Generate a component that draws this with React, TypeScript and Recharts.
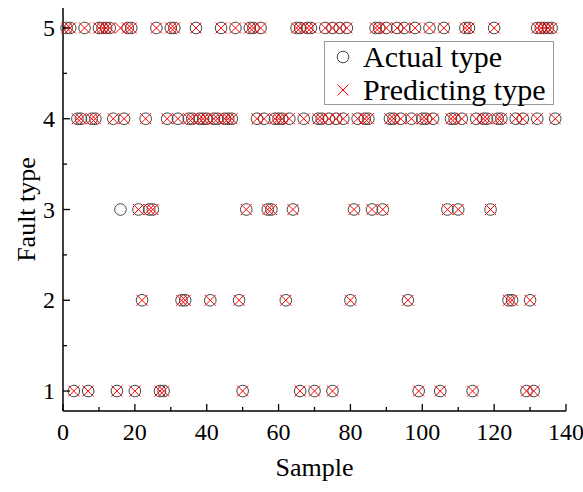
import { Legend, Scatter, ScatterChart, XAxis, YAxis } from 'recharts'

const FONT = '"Liberation Serif", "Times New Roman", serif'

// sample numbers for each fault type (actual == predicted)
const type5 = [1, 2, 6, 10, 11, 12, 13, 18, 19, 26, 30, 31, 37, 44, 48, 52, 53, 55, 65, 66, 68, 69, 73, 75, 77, 79, 87, 88, 90, 93, 95, 98, 102, 106, 112, 113, 120, 132, 133, 134, 135, 136]
const type4 = [4, 5, 8, 9, 14, 17, 23, 29, 32, 35, 36, 38, 39, 40, 42, 43, 45, 46, 47, 54, 56, 59, 60, 61, 63, 67, 71, 72, 74, 76, 78, 82, 84, 85, 91, 92, 94, 97, 100, 101, 103, 108, 109, 111, 115, 117, 118, 121, 122, 126, 128, 132, 137]
const type3 = [21, 24, 25, 51, 57, 58, 64, 81, 86, 89, 107, 110, 119]
const type2 = [22, 33, 34, 41, 49, 62, 80, 96, 124, 125, 130]
const type1 = [3, 7, 15, 20, 27, 28, 50, 66, 70, 75, 99, 105, 114, 129, 131]

// misclassified sample
const wrongSample = 16
const wrongActual = 3
const wrongPredicted = 5

const xTicks = [0, 10, 20, 30, 40, 50, 60, 70, 80, 90, 100, 110, 120, 130, 140]
const yTicks = [1, 1.5, 2, 2.5, 3, 3.5, 4, 4.5, 5]

const correct = [
  ...type1.map((x) => ({ x, y: 1 })),
  ...type2.map((x) => ({ x, y: 2 })),
  ...type3.map((x) => ({ x, y: 3 })),
  ...type4.map((x) => ({ x, y: 4 })),
  ...type5.map((x) => ({ x, y: 5 })),
]
const actualData = [...correct, { x: wrongSample, y: wrongActual }].sort((a, b) => a.x - b.x)
const predictedData = [...correct, { x: wrongSample, y: wrongPredicted }].sort((a, b) => a.x - b.x)

function CircleMark({ cx, cy }: any) {
  return <circle cx={cx} cy={cy} r={5.8} fill="none" stroke="#444" strokeWidth={1} />
}

function CrossMark({ cx, cy }: any) {
  const d = 5.5
  return (
    <g stroke="#ff0000" strokeWidth={1}>
      <line x1={cx - d} y1={cy - d} x2={cx + d} y2={cy + d} />
      <line x1={cx - d} y1={cy + d} x2={cx + d} y2={cy - d} />
    </g>
  )
}

function BottomTick({ x, y, payload }: any) {
  const major = payload.value % 20 === 0
  return (
    <g>
      <line x1={x} y1={y} x2={x} y2={y - (major ? 7 : 4)} stroke="#000" strokeWidth={1.3} />
      {major ? (
        <text x={x} y={y + 29} textAnchor="middle" fontSize={24} fontFamily={FONT} fill="#000">
          {payload.value}
        </text>
      ) : null}
    </g>
  )
}

function TopTick({ x, y, payload }: any) {
  const major = payload.value % 20 === 0
  return <line x1={x} y1={y} x2={x} y2={y + (major ? 7 : 4)} stroke="#000" strokeWidth={1.3} />
}

function LeftTick({ x, y, payload }: any) {
  const major = Number.isInteger(payload.value)
  return (
    <g>
      <line x1={x} y1={y} x2={x + (major ? 7 : 4)} y2={y} stroke="#000" strokeWidth={1.3} />
      {major ? (
        <text x={x - 8} y={y + 8} textAnchor="end" fontSize={24} fontFamily={FONT} fill="#000">
          {payload.value}
        </text>
      ) : null}
    </g>
  )
}

function RightTick({ x, y, payload }: any) {
  const major = Number.isInteger(payload.value)
  return <line x1={x} y1={y} x2={x - (major ? 7 : 4)} y2={y} stroke="#000" strokeWidth={1.3} />
}

function LegendBox() {
  return (
    <div
      style={{
        border: '1px solid #999',
        width: 228,
        height: 62,
        fontFamily: FONT,
        fontSize: 30,
        color: '#000',
        background: '#fff',
        position: 'relative',
      }}
    >
      <svg width={40} height={62} style={{ position: 'absolute', left: 0, top: 0 }}>
        <CircleMark cx={18} cy={15} />
        <CrossMark cx={18} cy={48} />
      </svg>
      <div style={{ position: 'absolute', left: 38, top: 0, lineHeight: '30px', whiteSpace: 'nowrap' }}>Actual type</div>
      <div style={{ position: 'absolute', left: 38, top: 33, lineHeight: '30px', whiteSpace: 'nowrap' }}>Predicting type</div>
    </div>
  )
}

const axisLine = { stroke: '#000', strokeWidth: 1.5 }

export default function App() {
  return (
    <div style={{ position: 'absolute', left: 0, top: 0, background: '#fff' }}>
      <ScatterChart width={583} height={492} margin={{ top: 8, right: 17, bottom: 0, left: 0 }}>
        <XAxis
          xAxisId="bottom"
          type="number"
          dataKey="x"
          domain={[0, 140]}
          ticks={xTicks}
          interval={0}
          height={81}
          axisLine={axisLine}
          tickLine={false}
          tickSize={0}
          tickMargin={0}
          tick={<BottomTick />}
          label={{
            content: ({ viewBox }: any) => (
              <text
                x={viewBox.x + viewBox.width / 2}
                y={viewBox.y + 65}
                textAnchor="middle"
                fontSize={26}
                fontFamily={FONT}
                fill="#000"
              >
                Sample
              </text>
            ),
          }}
        />
        <XAxis
          xAxisId="top"
          orientation="top"
          type="number"
          dataKey="x"
          domain={[0, 140]}
          ticks={xTicks}
          interval={0}
          height={0}
          axisLine={axisLine}
          tickLine={false}
          tickSize={0}
          tickMargin={0}
          tick={<TopTick />}
        />
        <YAxis
          yAxisId="left"
          type="number"
          dataKey="y"
          domain={[0.78, 5.22]}
          ticks={yTicks}
          interval={0}
          width={63}
          axisLine={axisLine}
          tickLine={false}
          tickSize={0}
          tickMargin={0}
          tick={<LeftTick />}
          label={{
            content: ({ viewBox }: any) => {
              const cx = viewBox.x + 26
              const cy = viewBox.y + viewBox.height / 2
              return (
                <text
                  x={cx}
                  y={cy}
                  transform={`rotate(-90 ${cx} ${cy})`}
                  textAnchor="middle"
                  dominantBaseline="central"
                  fontSize={26}
                  fontFamily={FONT}
                  fill="#000"
                >
                  Fault type
                </text>
              )
            },
          }}
        />
        <YAxis
          yAxisId="right"
          orientation="right"
          type="number"
          dataKey="y"
          domain={[0.78, 5.22]}
          ticks={yTicks}
          interval={0}
          width={0}
          axisLine={axisLine}
          tickLine={false}
          tickSize={0}
          tickMargin={0}
          tick={<RightTick />}
        />
        <Scatter
          name="Actual type"
          data={actualData}
          xAxisId="bottom"
          yAxisId="left"
          shape={<CircleMark />}
          isAnimationActive={false}
        />
        <Scatter
          name="Predicting type"
          data={predictedData}
          xAxisId="top"
          yAxisId="right"
          shape={<CrossMark />}
          isAnimationActive={false}
        />
        <Legend
          layout="vertical"
          align="center"
          verticalAlign="middle"
          wrapperStyle={{ left: 324, top: 41, width: 230 }}
          content={() => <LegendBox />}
        />
      </ScatterChart>
    </div>
  )
}
